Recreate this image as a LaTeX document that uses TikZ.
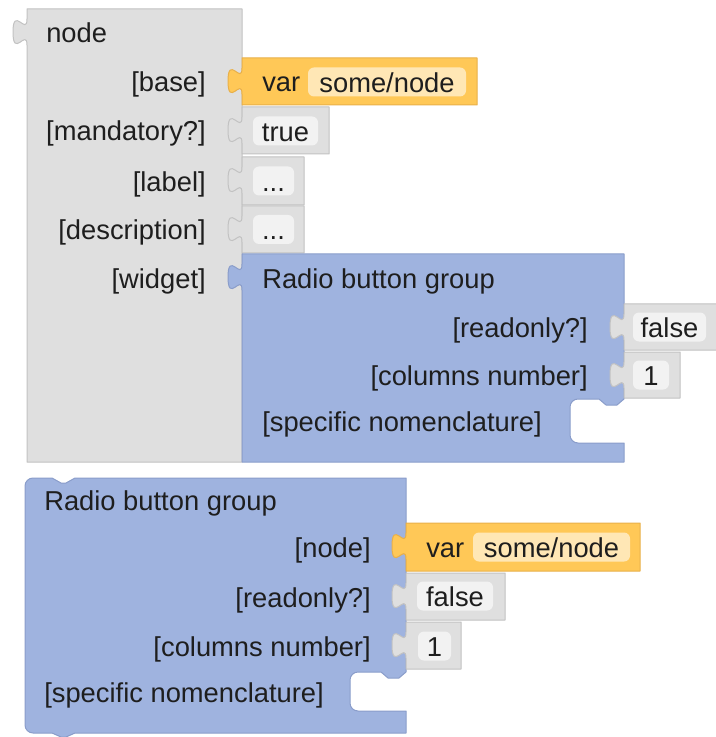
\documentclass[tikz,border=0pt]{standalone}
\usepackage{fontspec}
\setmainfont{Liberation Sans}
\definecolor{cgray}{HTML}{DFDFDF}
\definecolor{cgrayd}{HTML}{C2C2C2}
\definecolor{cblue}{HTML}{9FB3DF}
\definecolor{cblued}{HTML}{8A9DCA}
\definecolor{corange}{HTML}{FFC857}
\definecolor{coranged}{HTML}{E8B04A}
\definecolor{cfld}{HTML}{F2F2F2}
\definecolor{cofld}{HTML}{FFE7B5}
\definecolor{ctxt}{HTML}{1E1E1E}

% output tab on the left edge of a block, drawn upwards
\newcommand{\tabup}{.. controls +(0,-17.5) and +(0,27.1) .. ++(-14,-13.1) .. controls +(0,-27.1) and +(0,17.5) .. ++(14,-13.1)}

\begin{document}
\begin{tikzpicture}[
  x=0.75pt, y=-0.75pt, line join=round,
  font=\fontsize{20.5}{24}\selectfont, text=ctxt,
  gblk/.style={fill=cgray, draw=cgrayd, line width=0.75pt},
  bblk/.style={fill=cblue, draw=cblued, line width=0.75pt},
  oblk/.style={fill=corange, draw=coranged, line width=0.75pt},
  fld/.style={fill=cfld, rounded corners=4.5pt, inner sep=0pt,
              minimum height=21.75pt, text height=15.75pt, text depth=0pt},
  ofld/.style={fld, fill=cofld},
  lbl/.style={inner sep=0pt, anchor=base east},
  ttl/.style={inner sep=0pt, anchor=base west},
]
\useasboundingbox (0,0) rectangle (715,737);

% node block
\filldraw[gblk] (27,9) -- (242,9) -- (242,462) -- (27,462) -- (27,45.2) \tabup -- cycle;
\filldraw[oblk] (242,58) -- (477,58) -- (477,105) -- (242,105) -- (242,94.2) \tabup -- cycle;
\filldraw[gblk] (242,107) -- (329,107) -- (329,154) -- (242,154) -- (242,143.2) \tabup -- cycle;
\filldraw[gblk] (242,157) -- (304,157) -- (304,205) -- (242,205) -- (242,193.2) \tabup -- cycle;
\filldraw[gblk] (242,206) -- (304,206) -- (304,253) -- (242,253) -- (242,242.2) \tabup -- cycle;
\filldraw[bblk] (242,254) -- (624,254) -- (624,399) -- (617,405) -- (606,405) -- (599,399)
  [rounded corners=6pt] -- (570,399) -- (570,443) [sharp corners] -- (624,443) -- (624,462)
  -- (242,462) -- (242,290.2) \tabup -- cycle;
\filldraw[gblk] (624,304) -- (722,304) -- (722,350) -- (624,350) -- (624,340.2) \tabup -- cycle;
\filldraw[gblk] (624,352) -- (680,352) -- (680,398) -- (624,398) -- (624,388.2) \tabup -- cycle;

\node[ttl] (nodettl) at (46,43) {node};
\node[lbl] (lbase)   at (206,92)    {[base]};
\node[lbl] (lmand)   at (206,141)   {[mandatory?]};
\node[lbl] (llabel)  at (206,191.5) {[label]};
\node[lbl] (ldesc)   at (206,240)   {[description]};
\node[lbl] (lwidget) at (206,288.5) {[widget]};

\node[ttl] (var1) at (262,92) {var};
\node[ofld, minimum width=118.5pt] (var1v)  at (387,82)      {some/node};
\node[fld, minimum width=48.75pt]  (truev)  at (285.5,131)   {true};
\node[fld, minimum width=30.75pt]  (labelv) at (273.5,181)   {...};
\node[fld, minimum width=30.75pt]  (descv)  at (273.5,229.5) {...};

\node[ttl] (rbg1ttl) at (262,288.5) {Radio button group};
\node[lbl] (rbg1ro)  at (588,337.5) {[readonly?]};
\node[lbl] (rbg1col) at (588,385.5) {[columns number]};
\node[ttl] (rbg1nom) at (262,431.5) {[specific nomenclature]};
\node[fld, minimum width=54.75pt] (false1v) at (669.5,327) {false};
\node[fld, minimum width=27pt]    (one1v)   at (651,375)   {1};

% radio button group block
\filldraw[bblk] (75,478) -- (406,478) -- (406,672) -- (399,678) -- (388,678) -- (381,672)
  [rounded corners=6pt] -- (350,672) -- (350,711) [sharp corners] -- (406,711) -- (406,733)
  -- (75,733) -- (66,737) -- (61,737) -- (52,733) [rounded corners=6pt] -- (25,733) -- (25,478)
  [sharp corners] -- (52,478) -- (61,483) -- (66,483) -- cycle;
\filldraw[oblk] (406,523) -- (640,523) -- (640,571) -- (406,571) -- (406,559.2) \tabup -- cycle;
\filldraw[gblk] (406,573) -- (505,573) -- (505,620) -- (406,620) -- (406,609.2) \tabup -- cycle;
\filldraw[gblk] (406,622) -- (461,622) -- (461,669) -- (406,669) -- (406,658.2) \tabup -- cycle;

\node[ttl] (rbg2ttl)  at (44,510)    {Radio button group};
\node[lbl] (rbg2node) at (371,557.5) {[node]};
\node[lbl] (rbg2ro)   at (371,607)   {[readonly?]};
\node[lbl] (rbg2col)  at (371,656)   {[columns number]};
\node[ttl] (rbg2nom)  at (44,702)    {[specific nomenclature]};
\node[ttl] (var2) at (426,557.5) {var};
\node[ofld, minimum width=117.75pt] (var2v)   at (551.5,547) {some/node};
\node[fld, minimum width=57pt]      (false2v) at (455,596)   {false};
\node[fld, minimum width=24.75pt]   (one2v)   at (434.5,646) {1};
\end{tikzpicture}
\end{document}
